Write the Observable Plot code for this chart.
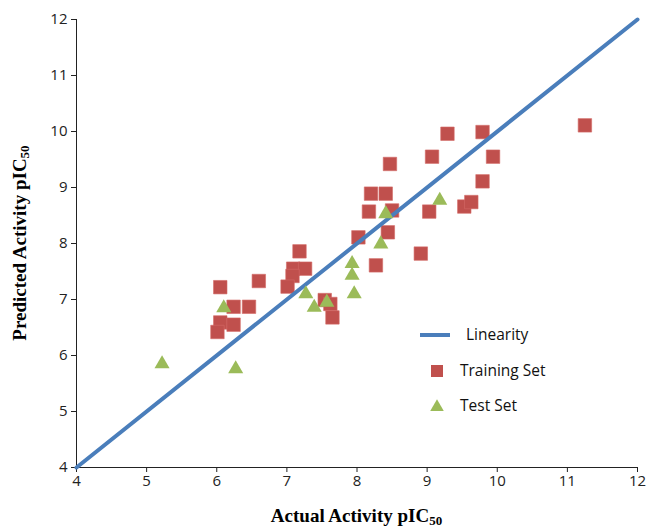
<!DOCTYPE html>
<html><head><meta charset="utf-8">
<script src="https://cdn.jsdelivr.net/npm/d3@7"></script>
<script src="https://cdn.jsdelivr.net/npm/@observablehq/plot@0.6"></script>
<style>body{margin:0;background:#fff}</style>
</head><body><div id="chart"></div>
<script>
const ticks = [4, 5, 6, 7, 8, 9, 10, 11, 12];
const lineX = [4, 12];
const lineY = [4, 12];
const trainX = [6.05, 6.60, 6.24, 6.46, 6.05, 6.24, 6.01, 7.18, 7.09, 7.26, 7.08, 7.01, 7.54, 7.62, 7.65, 8.02, 8.17, 8.20, 8.27, 8.41, 8.44, 8.47, 8.50, 8.91, 9.03, 9.07, 9.29, 9.53, 9.63, 9.79, 9.79, 9.94, 11.25];
const trainY = [7.22, 7.33, 6.87, 6.87, 6.59, 6.55, 6.42, 7.86, 7.55, 7.55, 7.42, 7.23, 6.99, 6.92, 6.68, 8.11, 8.57, 8.89, 7.61, 8.89, 8.20, 9.42, 8.59, 7.82, 8.57, 9.55, 9.96, 8.66, 8.74, 9.11, 9.99, 9.55, 10.11];
const testX = [5.22, 6.10, 6.27, 7.27, 7.39, 7.57, 7.93, 7.93, 7.96, 8.34, 8.41, 9.18];
const testY = [5.85, 6.85, 5.76, 7.10, 6.86, 6.95, 7.64, 7.43, 7.10, 7.99, 8.53, 8.77];
const legendLabels = ["Linearity", "Training Set", "Test Set"];
const xTitle = ["Actual Activity pIC", "50"];
const yTitle = ["Predicted Activity pIC", "50"];

const RED = "#C0504D", GREEN = "#9BBB59", BLUE = "#4A7EBB";
const train = trainX.map((x, i) => ({x, y: trainY[i]}));
const test = testX.map((x, i) => ({x, y: testY[i]}));
const line = lineX.map((x, i) => ({x, y: lineY[i]}));

const W = 649, H = 528, ML = 76, MR = 12, MT = 19, MB = 61;
const plot = Plot.plot({
  width: W, height: H,
  marginLeft: ML, marginRight: MR, marginTop: MT, marginBottom: MB,
  style: {fontFamily: "'Open Sans', sans-serif", fontSize: "15px", color: "#222", background: "#fff", overflow: "visible"},
  x: {domain: [4, 12], ticks: ticks, tickSize: 5, tickPadding: 3, label: null, tickFormat: d => String(d)},
  y: {domain: [4, 12], ticks: ticks, tickSize: 5, tickPadding: 4, label: null, tickFormat: d => String(d)},
  marks: [
    Plot.ruleX([4], {stroke: "#222", strokeWidth: 1}),
    Plot.ruleY([4], {stroke: "#222", strokeWidth: 1}),
    Plot.dot(train, {x: "x", y: "y", symbol: "square", r: 7.6, fill: RED, stroke: "#D46A66", strokeWidth: 0.6}),
    Plot.line(line, {x: "x", y: "y", stroke: BLUE, strokeWidth: 4}),
    Plot.dot(test, {x: "x", y: "y", symbol: "triangle", r: 5.6, fill: GREEN, stroke: "none"})
  ]
});
document.getElementById("chart").appendChild(plot);

const svg = d3.select(plot);
// axis titles
const tx = svg.append("text").attr("x", ML + (W - ML - MR) / 2).attr("y", 522)
  .attr("text-anchor", "middle").attr("font-family", "'Liberation Serif', serif")
  .attr("font-weight", "bold").attr("font-size", 19).attr("fill", "#000");
tx.append("tspan").text(xTitle[0]);
tx.append("tspan").attr("font-size", 13).attr("dy", 3).text(xTitle[1]);

const ty = svg.append("text").attr("transform", `translate(26,${MT + (H - MT - MB) / 2}) rotate(-90)`)
  .attr("text-anchor", "middle").attr("font-family", "'Liberation Serif', serif")
  .attr("font-weight", "bold").attr("font-size", 19).attr("fill", "#000");
ty.append("tspan").text(yTitle[0]);
ty.append("tspan").attr("font-size", 13).attr("dy", 3).text(yTitle[1]);

// legend
const lg = svg.append("g").attr("font-family", "'Open Sans', sans-serif").attr("font-size", 15.5)
  .attr("fill", "#111").attr("text-anchor", "start");
lg.append("line").attr("x1", 420).attr("x2", 450).attr("y1", 335).attr("y2", 335).attr("stroke", BLUE).attr("stroke-width", 4);
lg.append("text").attr("x", 466).attr("y", 335).attr("dy", "0.35em").text(legendLabels[0]);
lg.append("rect").attr("x", 431).attr("y", 365).attr("width", 12).attr("height", 12).attr("fill", RED);
lg.append("text").attr("x", 460).attr("y", 371).attr("dy", "0.35em").text(legendLabels[1]);
lg.append("path").attr("d", d3.symbol(d3.symbolTriangle, 80)()).attr("transform", "translate(437,407)").attr("fill", GREEN);
lg.append("text").attr("x", 460).attr("y", 406).attr("dy", "0.35em").text(legendLabels[2]);
</script></body></html>
